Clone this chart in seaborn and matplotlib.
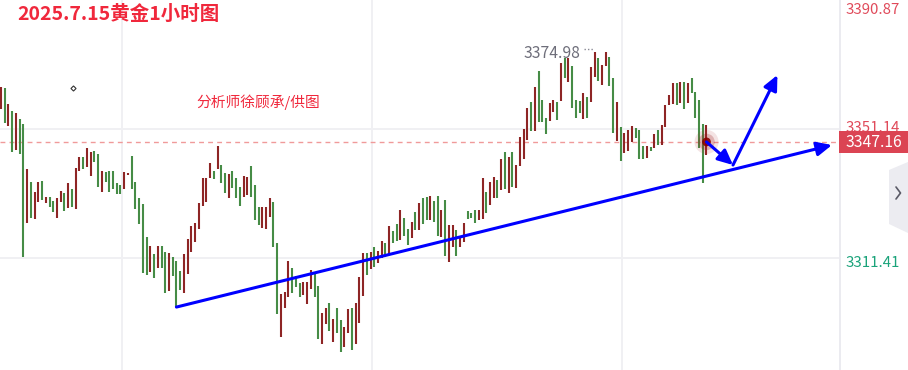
import numpy as np
import pandas as pd
import matplotlib
matplotlib.use("Agg")
import matplotlib.pyplot as plt
import seaborn as sns
from matplotlib.patches import Polygon, Rectangle, FancyArrowPatch
from matplotlib.lines import Line2D

# ---------------- data (1h gold candles) ----------------
opens = [
    3357.3, 3363.8, 3352.1, 3356.7, 3344.7, 3354.2, 3352.7, 3322.2, 3334.8, 3323.4,
    3328.7, 3335.1, 3328.4, 3330.2, 3329.0, 3323.7, 3328.7, 3331.4, 3326.8, 3332.7,
    3326.5, 3338.2, 3342.5, 3339.4, 3336.7, 3344.4, 3343.4, 3331.7, 3337.9, 3338.2,
    3338.2, 3334.5, 3333.9, 3332.7, 3337.0, 3342.8, 3334.8, 3329.9, 3328.0, 3317.9,
    3307.1, 3312.6, 3308.3, 3315.1, 3313.3, 3301.2, 3311.7, 3310.5,
    3307.4, 3300.6, 3306.5, 3313.3, 3316.3, 3320.3, 3327.4, 3328.7, 3336.0, 3338.2,
    3338.8, 3340.1, 3337.6, 3329.9, 3338.2, 3336.0, 3333.3, 3330.2, 3330.8, 3339.7,
    3333.9, 3327.1, 3320.6, 3320.3, 3324.0, 3328.7, 3316.0, 3287.1, 3296.0, 3299.4,
    3308.3, 3305.9, 3303.7, 3300.0, 3297.2, 3301.9, 3307.1, 3302.8, 3284.9, 3291.1,
    3297.5, 3285.5, 3296.0, 3292.3, 3284.0, 3288.3, 3296.0,
    3284.9, 3291.4, 3299.7, 3313.0, 3308.0, 3314.8, 3309.9, 3311.4, 3316.0, 3312.6,
    3319.7, 3321.9, 3317.0, 3323.7, 3320.3, 3317.6, 3325.6, 3320.0, 3329.9, 3330.2,
    3323.1, 3329.0, 3330.5, 3317.9, 3329.3, 3310.2, 3314.8, 3320.0, 3314.8, 3316.3,
    3325.9, 3325.3, 3326.2, 3323.1, 3323.4, 3331.7, 3327.7, 3329.9, 3335.4, 3332.4,
    3344.1, 3331.4, 3344.1, 3333.0, 3339.7, 3341.9, 3347.8, 3359.5, 3350.5, 3369.0,
    3360.1, 3354.5, 3353.6, 3356.4, 3359.5, 3359.8, 3373.0, 3365.6, 3370.5, 3360.1,
    3359.8, 3354.2, 3361.0, 3359.5, 3367.2, 3373.0, 3364.7, 3370.5, 3373.3, 3366.8,
    3347.4, 3351.8, 3343.8, 3344.4, 3347.1, 3351.4, 3350.8, 3345.9, 3342.2, 3345.6,
    3345.3, 3350.8, 3346.2, 3351.8, 3358.5, 3358.8, 3365.3, 3359.1, 3365.6, 3359.1,
    3366.8, 3362.5, 3360.1, 3352.7, 3343.1,
]
closes = [
    3364.1, 3353.0, 3358.8, 3344.1, 3356.1, 3343.4, 3311.7, 3338.8, 3323.7, 3331.7,
    3334.8, 3329.3, 3330.2, 3327.1, 3325.6, 3329.9, 3332.0, 3325.9, 3334.5, 3327.1,
    3339.1, 3342.5, 3338.8, 3345.3, 3344.1, 3341.0, 3333.3, 3338.2, 3334.8, 3331.7,
    3332.7, 3331.1, 3331.1, 3337.9, 3337.6, 3332.7, 3326.5, 3321.9, 3306.8, 3306.2,
    3315.1, 3305.2, 3315.1, 3308.3, 3300.6, 3313.0, 3305.9, 3296.3,
    3301.6, 3312.6, 3317.3, 3321.3, 3322.2, 3328.4, 3336.0, 3336.0, 3340.7, 3335.7,
    3345.9, 3334.5, 3331.4, 3337.3, 3333.0, 3329.9, 3327.4, 3336.7, 3336.4, 3330.2,
    3323.1, 3321.6, 3327.1, 3327.1, 3329.9, 3314.8, 3294.2, 3300.3, 3300.9, 3310.5,
    3300.6, 3302.5, 3299.4, 3304.0, 3304.0, 3307.7, 3299.4, 3286.5, 3294.5, 3296.0,
    3288.9, 3292.6, 3288.3, 3282.5, 3290.2, 3295.7, 3283.1,
    3297.5, 3305.6, 3313.0, 3306.2, 3313.3, 3308.6, 3313.6, 3316.6, 3311.7, 3321.3,
    3316.0, 3316.6, 3326.2, 3318.2, 3315.4, 3322.5, 3320.0, 3328.4, 3321.9, 3323.1,
    3330.5, 3322.5, 3318.2, 3326.2, 3312.0, 3321.6, 3321.6, 3312.0, 3317.9, 3322.2,
    3323.4, 3323.7, 3322.2, 3326.2, 3336.0, 3325.3, 3334.8, 3336.4, 3329.9, 3341.9,
    3332.7, 3342.5, 3333.3, 3340.1, 3348.7, 3351.1, 3357.6, 3350.5, 3364.1, 3353.3,
    3353.3, 3349.6, 3359.1, 3360.1, 3353.9, 3371.5, 3366.8, 3373.0, 3357.6, 3354.5,
    3356.1, 3362.2, 3354.5, 3370.2, 3374.98, 3365.9, 3370.9, 3374.9, 3364.4, 3349.9,
    3359.5, 3341.3, 3349.9, 3350.8, 3352.1, 3348.4, 3341.9, 3341.9, 3345.9, 3344.4,
    3349.6, 3346.2, 3352.4, 3358.5, 3361.6, 3365.3, 3358.5, 3365.6, 3357.3, 3365.3,
    3362.2, 3354.5, 3345.3, 3334.5, 3352.4,
]
axis_labels = ["3390.87", "3351.14", "3311.41"]
axis_values = [3390.87, 3351.14, 3311.41]
last_price = 3347.16
max_label = "3374.98"
title = "2025.7.15黄金1小时图"
subtitle = "分析师徐顾承/供图"

# annotation anchors (bar index, price)
trend_pts = [(47, 3296.3), (222.6, 3346.2)]
arrow_down = [(189, 3347.16), (196.1, 3340.05)]
arrow_up = [(196.1, 3340.05), (208.0, 3367.77)]

# ---------------- figure ----------------
sns.set_theme(style="white")
plt.rcParams['font.family'] = ['Noto Sans CJK SC', 'DejaVu Sans']

W, H = 908, 370
fig = plt.figure(figsize=(W / 100, H / 100), dpi=100)
fig.patch.set_facecolor("white")
PLOT_W = 839
ax = fig.add_axes([0, 0, PLOT_W / W, 1])
ax.set_facecolor("white")

df = pd.DataFrame({"open": opens, "close": closes})
df["idx"] = np.arange(len(df))
df["hi"] = df[["open", "close"]].max(axis=1)
df["lo"] = df[["open", "close"]].min(axis=1)
df["up"] = df["close"] >= df["open"]

step = 3.7328  # px per bar
ax.set_xlim(-1 / step, (PLOT_W - 1) / step)
ax.set_ylim(3390.87 - H / 3.247, 3390.87)

# grid
ax.set_xticks([32.4, 99.4, 166.4])
ax.set_yticks([3311.41, 3351.14])
ax.grid(True, color="#f0f0f3", lw=1.4)
ax.tick_params(left=False, bottom=False, labelleft=False, labelbottom=False)
for s in ax.spines.values():
    s.set_visible(False)

# dashed last-price line
ax.axhline(last_price, color="#f09a9a", lw=1.0, ls=(0, (3.5, 3)), zorder=2)

red_c, green_c = "#8e2525", "#468c46"
colors = [red_c if u else green_c for u in df["up"]]
ax.vlines(df["idx"], df["lo"], df["hi"], colors=colors, lw=1.5, zorder=3)

# glow dot on last candle
last_i = df["idx"].iloc[-1]
glow = pd.DataFrame({"x": [last_i], "y": [last_price]})
for sz, a, c in [(300, 0.13, "#b03030"), (140, 0.25, "#a02020"), (40, 0.9, "#8b0000")]:
    sns.scatterplot(data=glow, x="x", y="y", s=sz, color=c, alpha=a,
                    edgecolor="none", ax=ax, zorder=5, legend=False)
ax.set_xlabel("")
ax.set_ylabel("")

# blue lines
def arrow(p0, p1):
    a = FancyArrowPatch(p0, p1, arrowstyle="-|>,head_length=0.75,head_width=0.35",
                        mutation_scale=12, color="#0000ff", lw=2.2,
                        shrinkA=0, shrinkB=0, zorder=6)
    ax.add_patch(a)

arrow(*trend_pts)
arrow(*arrow_down)
arrow(*arrow_up)

# ---------------- texts & decorations (figure pixel coords) ----------------
def fx(px):
    return px / W

def fy(py):
    return 1 - py / H

fig.text(fx(17), fy(14), title, color="#f0283c", fontsize=14, fontweight="bold",
         ha="left", va="center")
fig.text(fx(196), fy(102), subtitle, color="#f0283c", fontsize=10.6, fontweight=500,
         ha="left", va="center")

# max label
fig.text(fx(524), fy(53), max_label, color="#6e6e7a", fontsize=11.3, ha="left", va="center")
fig.add_artist(Line2D([fx(584), fx(594)], [fy(49), fy(49)], transform=fig.transFigure,
                      color="#8a8a95", lw=1.0, ls=(0, (1, 1.5))))

# small crosshair-ish mark
fig.add_artist(Line2D([fx(73)], [fy(88)], transform=fig.transFigure, marker="D",
                      markersize=2.6, mfc="none", mec="#333333", mew=0.8, ls="none"))

# right axis border
fig.add_artist(Line2D([fx(839.5), fx(839.5)], [0, 1], transform=fig.transFigure,
                      color="#ebebf0", lw=1.4))

# right labels
label_y = [10, 128, 263]
label_c = ["#e04a5a", "#e04a5a", "#1aa37a"]
for t, yy, c in zip(axis_labels, label_y, label_c):
    fig.text(fx(846), fy(yy), t, color=c, fontsize=10.8, ha="left", va="center", zorder=1)

# last price box
fig.add_artist(Rectangle((fx(839), fy(153)), fx(69), 22 / H, transform=fig.transFigure,
                         facecolor="#db4453", edgecolor="none", zorder=3))
fig.text(fx(873.5), fy(142), f"{last_price:.2f}", color="white", fontsize=11.3,
         fontweight=500, ha="center", va="center", zorder=4)

# collapse tab
tab = Polygon([(fx(889), fy(170)), (fx(908), fy(162)), (fx(908), fy(233)), (fx(889), fy(224))],
              closed=True, transform=fig.transFigure, facecolor="#ececf1", edgecolor="none")
fig.add_artist(tab)
fig.add_artist(Line2D([fx(896), fx(900.5), fx(896)], [fy(187), fy(193), fy(199)],
                      transform=fig.transFigure, color="#5a5a66", lw=1.2))

fig.savefig("out.png", dpi=100, facecolor="white")
